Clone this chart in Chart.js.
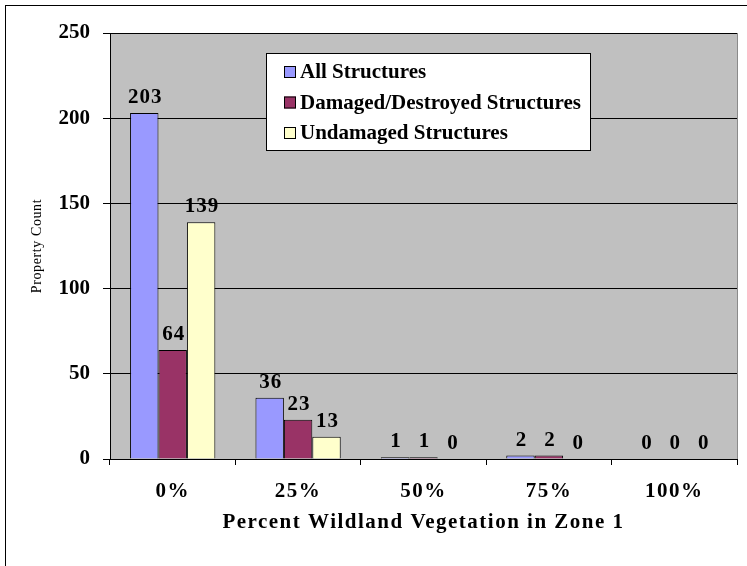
<!DOCTYPE html>
<html><head><meta charset="utf-8">
<script src="https://cdn.jsdelivr.net/npm/chart.js@4/dist/chart.umd.min.js"></script>
<style>html,body{margin:0;padding:0;background:#fff;overflow:hidden}#wrap{width:747px;height:566px;position:relative}</style>
</head><body><div id="wrap"><canvas id="c" width="747" height="566" style="width:747px;height:566px"></canvas></div>
<script>
const categories = ['0%', '25%', '50%', '75%', '100%'];
const allStructures = [203, 36, 1, 2, 0];
const damagedStructures = [64, 23, 1, 2, 0];
const undamagedStructures = [139, 13, 0, 0, 0];
const seriesNames = ['All Structures', 'Damaged/Destroyed Structures', 'Undamaged Structures'];
const seriesColors = ['#9999FF', '#993366', '#FFFFCC'];
const yTickValues = [0, 50, 100, 150, 200, 250];
const xTitle = 'Percent Wildland Vegetation in Zone 1';
const yTitle = 'Property Count';

const FONT = "'Liberation Serif', 'Times New Roman', serif";
const BOLD = {family: FONT, size: 21, weight: 'bold'};

function withSpacing(ctx, sp, fn) {
  const prev = ctx.letterSpacing;
  ctx.letterSpacing = sp;
  try { fn(); } finally { ctx.letterSpacing = prev; }
}

const spacingPlugin = {
  id: 'spacing',
  afterUpdate(chart) {
    const conf = {x: {labels: '1.5px', title: '1.5px'}, y: {labels: '0px', title: '0.6px'}};
    Object.keys(conf).forEach(id => {
      const s = chart.scales[id];
      if (!s || s.__ls) return;
      const dl = s.drawLabels.bind(s), dt = s.drawTitle.bind(s);
      s.drawLabels = function (a) { withSpacing(this.ctx, conf[id].labels, () => dl(a)); };
      s.drawTitle = function (a) { withSpacing(this.ctx, conf[id].title, () => dt(a)); };
      s.__ls = true;
    });
  }
};

const bgPlugin = {
  id: 'bg',
  beforeDraw(chart) {
    const ctx = chart.ctx;
    ctx.save();
    ctx.fillStyle = '#fff';
    ctx.fillRect(0, 0, chart.width, chart.height);
    ctx.strokeStyle = '#000';
    ctx.lineWidth = 1;
    ctx.strokeRect(5.5, 5.5, chart.width + 20, chart.height + 20);
    const a = chart.chartArea;
    ctx.fillStyle = '#C0C0C0';
    ctx.fillRect(a.left, a.top, a.right - a.left, a.bottom - a.top);
    ctx.strokeStyle = '#8a8a8a';
    ctx.beginPath();
    ctx.moveTo(a.right + 0.5, a.top);
    ctx.lineTo(a.right + 0.5, a.bottom);
    ctx.stroke();
    ctx.restore();
  }
};

const labelPlugin = {
  id: 'vals',
  afterDatasetsDraw(chart) {
    const ctx = chart.ctx;
    ctx.save();
    ctx.font = `bold ${BOLD.size}px ${FONT}`;
    ctx.letterSpacing = '1px';
    ctx.fillStyle = '#000';
    ctx.textAlign = 'center';
    ctx.textBaseline = 'alphabetic';
    chart.data.datasets.forEach((ds, di) => {
      const meta = chart.getDatasetMeta(di);
      meta.data.forEach((bar, i) => {
        ctx.fillText(String(ds.data[i]), bar.x + 1, bar.y - 10);
      });
    });
    ctx.restore();
  }
};

const legendPlugin = {
  id: 'boxLegend',
  afterDraw(chart) {
    const ctx = chart.ctx;
    const x0 = 266, y0 = 53, w = 324, h = 97;
    ctx.save();
    ctx.fillStyle = '#fff';
    ctx.fillRect(x0, y0, w, h);
    ctx.strokeStyle = '#000';
    ctx.lineWidth = 1;
    ctx.strokeRect(x0 + 0.5, y0 + 0.5, w, h);
    ctx.font = `bold ${BOLD.size}px ${FONT}`;
    ctx.letterSpacing = '0px';
    ctx.textBaseline = 'middle';
    ctx.textAlign = 'left';
    chart.data.datasets.forEach((ds, i) => {
      const cy = 72 + i * 30.5;
      ctx.fillStyle = ds.backgroundColor;
      ctx.fillRect(284, cy - 6, 12, 12);
      ctx.strokeStyle = '#000';
      ctx.strokeRect(284.5, cy - 5.5, 11, 11);
      ctx.fillStyle = '#000';
      ctx.fillText(ds.label, 300, cy + 1);
    });
    ctx.restore();
  }
};

new Chart(document.getElementById('c'), {
  type: 'bar',
  data: {
    labels: categories,
    datasets: [
      {label: seriesNames[0], data: allStructures, backgroundColor: seriesColors[0]},
      {label: seriesNames[1], data: damagedStructures, backgroundColor: seriesColors[1]},
      {label: seriesNames[2], data: undamagedStructures, backgroundColor: seriesColors[2]}
    ].map(d => Object.assign(d, {borderColor: '#000', borderWidth: 1, categoryPercentage: 0.68, barPercentage: 1}))
  },
  options: {
    responsive: false,
    animation: false,
    devicePixelRatio: 1,
    layout: {padding: {left: 0, top: 33, right: 10, bottom: 0}},
    plugins: {legend: {display: false}, tooltip: {enabled: false}},
    scales: {
      x: {
        grid: {display: true, drawOnChartArea: false, drawTicks: true, tickLength: 6, color: '#000', offset: true},
        border: {display: true, color: '#000', width: 1},
        ticks: {color: '#000', font: BOLD, padding: 14, maxRotation: 0},
        title: {display: true, text: xTitle, color: '#000', font: BOLD, padding: {top: 0, bottom: 31}},
        afterFit(s) { s.height = 107; }
      },
      y: {
        min: 0, max: 250,
        afterBuildTicks(s) { s.ticks = yTickValues.map(v => ({value: v})); },
        grid: {color: '#000', drawTicks: true, tickLength: 7},
        border: {display: true, color: '#000', width: 1},
        ticks: {color: '#000', font: BOLD, padding: 13},
        title: {display: true, text: yTitle, color: '#000', font: {family: FONT, size: 14}, padding: {top: 29, bottom: 0}},
        afterFit(s) { s.width = 110; }
      }
    }
  },
  plugins: [spacingPlugin, bgPlugin, labelPlugin, legendPlugin]
});
</script></body></html>
